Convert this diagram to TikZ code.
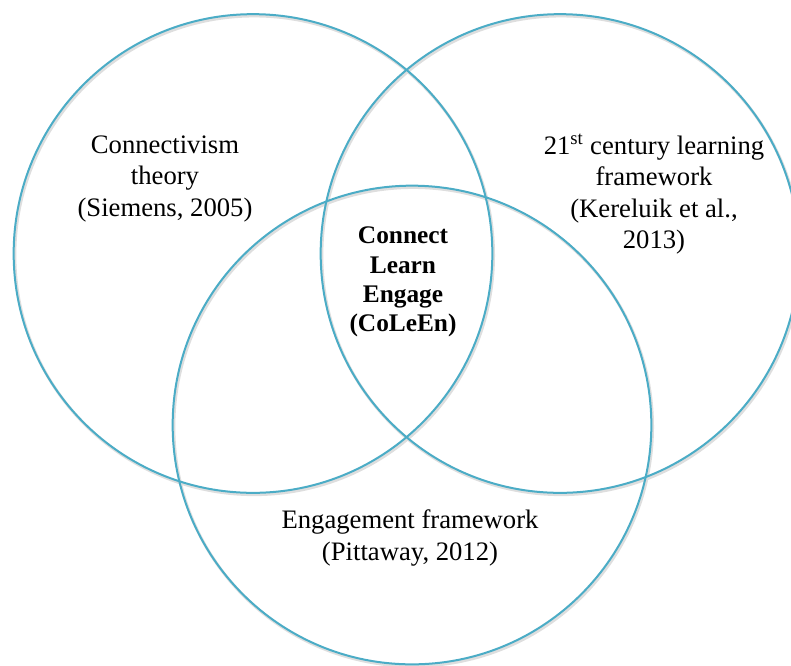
\documentclass[tikz,border=0pt]{standalone}
\usepackage{fontspec}
\setmainfont{Liberation Serif}
\usepackage{xcolor}
\usepackage{tikz}
\definecolor{vennblue}{HTML}{4BACC6}

\begin{document}
\begin{tikzpicture}[x=0.75pt, y=-0.75pt,
    ring/.style={draw=vennblue, line width=1.5pt},
    ringshadow/.style={draw=black!13, line width=2.2pt},
    label/.style={align=center, font=\fontsize{20}{23.6}\selectfont, inner sep=0pt},
    core/.style={align=center, font=\fontsize{19}{22}\selectfont\bfseries, inner sep=0pt}]

    % Frame
    \useasboundingbox (0,0) rectangle (791,665);
    \clip (0,0) rectangle (791,665);

    % Circle centres
    \coordinate (ctheory) at (253,253.5);
    \coordinate (cframe) at (560,253.5);
    \coordinate (cengage) at (412,425);

    % Shadows
    \foreach \c in {ctheory, cframe, cengage}
        \draw[ringshadow] ([shift={(1.2,1.8)}]\c) circle[radius=179.5pt];

    % Circles
    \foreach \c in {ctheory, cframe, cengage}
        \draw[ring] (\c) circle[radius=179.5pt];

    % Labels
    \node[label] (theory) at (165,179) {Connectivism\\theory\\(Siemens, 2005)};
    \node[label] (frame) at (654,194) {21\textsuperscript{st} century learning\\framework\\(Kereluik et al.,\\2013)};
    \node[label] (engage) at (410,538) {Engagement framework\\(Pittaway, 2012)};
    \node[core] (coleen) at (403,282) {Connect\\Learn\\Engage\\(CoLeEn)};
\end{tikzpicture}
\end{document}
